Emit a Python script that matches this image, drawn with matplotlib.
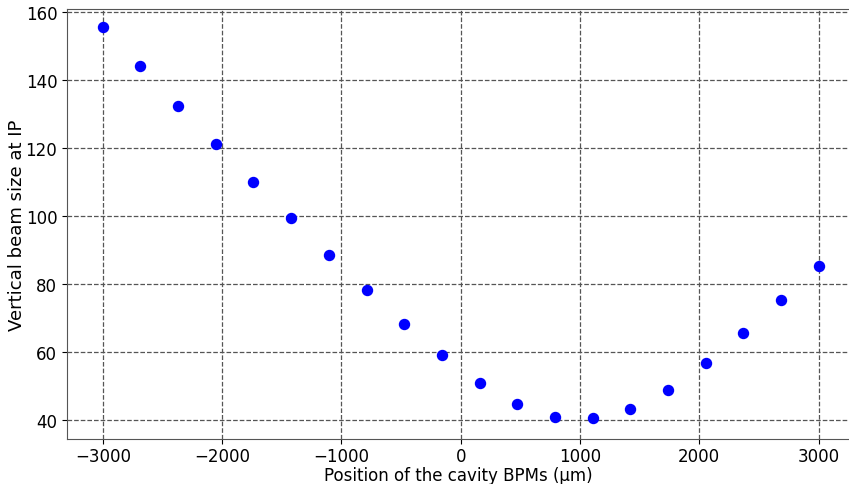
import matplotlib
matplotlib.use('Agg')
import matplotlib.pyplot as plt

# cavity BPM offsets (um) and measured vertical beam size at the IP
bpm_position = [-3000, -2684, -2368, -2053, -1737, -1421, -1105, -789, -474, -158,
                158, 474, 789, 1105, 1421, 1737, 2053, 2368, 2684, 3000]
beam_size = [155.5, 144.0, 132.5, 121.3, 110.1, 99.3, 88.6, 78.2, 68.3, 59.2,
             51.0, 44.7, 41.0, 40.5, 43.2, 48.9, 56.7, 65.5, 75.2, 85.4]

x_ticks = [-3000, -2000, -1000, 0, 1000, 2000, 3000]
y_ticks = [40, 60, 80, 100, 120, 140, 160]

fig = plt.figure(figsize=(8.49, 4.85), dpi=100)
ax = fig.add_axes([67 / 849, 45 / 485, 1 - 67 / 849, 430 / 485])

ax.plot(bpm_position, beam_size, 'o', color='blue', markersize=7.2, zorder=3)

ax.set_xlim(-3300, 3255)
ax.set_ylim(34.4, 160.9)
ax.set_xticks(x_ticks)
ax.set_yticks(y_ticks)
ax.tick_params(labelsize=12)
ax.tick_params(axis='x', pad=2)

ax.grid(True, linestyle='--', color='#555555', linewidth=0.9)
ax.set_axisbelow(True)
ax.spines['right'].set_visible(False)
for side in ['left', 'bottom', 'top']:
    ax.spines[side].set_color('#555555')

ax.set_xlabel('Position of the cavity BPMs (µm)', fontsize=12, labelpad=1)
ax.set_ylabel('Vertical beam size at IP', fontsize=13, labelpad=0)

fig.savefig('out.png', dpi=100)
